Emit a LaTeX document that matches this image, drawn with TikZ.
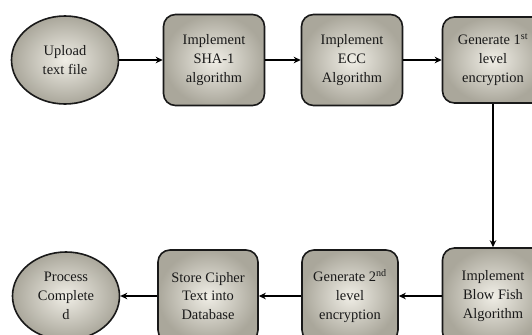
\documentclass[tikz,border=0pt]{standalone}
\usepackage{fontspec}
\setmainfont{Liberation Serif}
\usetikzlibrary{shapes.geometric,arrows.meta}

\definecolor{stepin}{RGB}{240,238,230}
\definecolor{stepout}{RGB}{170,167,155}

\begin{document}
\begin{tikzpicture}[x=1bp, y=-1bp,
    every node/.style={align=center, font=\fontsize{14.5}{19}\selectfont, text=black!90, line width=1.6bp, draw=black!90, inner color=stepin, outer color=stepout},
    stepbox/.style={rectangle, rounded corners=12bp, minimum width=101bp, minimum height=91bp},
    endbox/.style={ellipse, minimum width=107bp, minimum height=88bp, inner sep=0pt},
    flow/.style={line width=1.5bp, -{Stealth[length=7bp, width=6.5bp]}}]
    \useasboundingbox (0,0) rectangle (532,334);
    % top row
    \node[endbox] (upload) at (65,60) {Upload\\text file};
    \node[stepbox] (sha) at (214,60) {Implement\\SHA-1\\algorithm};
    \node[stepbox] (ecc) at (352,60) {Implement\\ECC\\Algorithm};
    \node[stepbox, minimum height=86bp] (first) at (493,60) {Generate 1\textsuperscript{st}\\level\\encryption};
    % bottom row
    \node[stepbox, minimum height=96bp] (blow) at (493,296) {Implement\\Blow Fish\\Algorithm};
    \node[stepbox, minimum width=96bp, minimum height=92bp] (second) at (350,296) {Generate 2\textsuperscript{nd}\\level\\encryption};
    \node[stepbox, minimum width=100bp, minimum height=92bp] (store) at (208,296) {Store Cipher\\Text into\\Database};
    \node[endbox] (done) at (66,296) {Process\\Complete\\d};
    % connectors
    \foreach \a/\b in {upload/sha, sha/ecc, ecc/first, blow/second, second/store, store/done} {
        \draw[flow] (\a) -- (\b);
    }
    \draw[flow] (first.south) -- (blow.north);
\end{tikzpicture}
\end{document}
